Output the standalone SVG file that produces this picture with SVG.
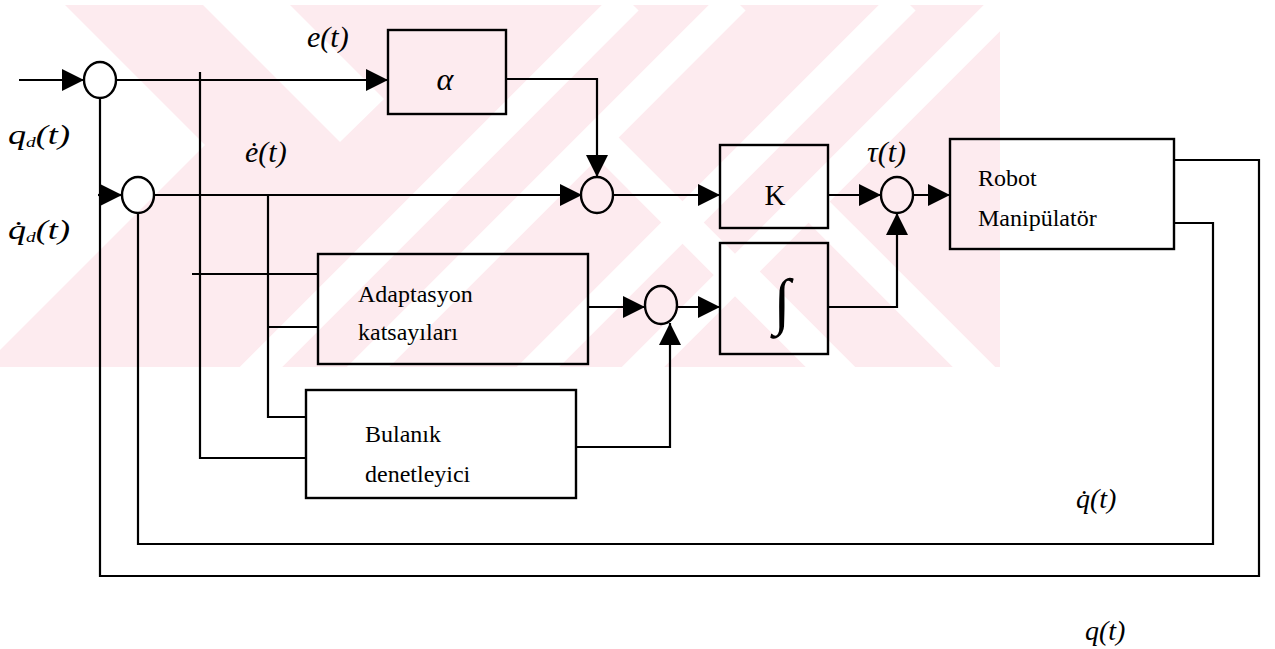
<svg xmlns="http://www.w3.org/2000/svg" width="1275" height="649" viewBox="0 0 1275 649">
<defs>
<marker id="ah" markerUnits="userSpaceOnUse" markerWidth="22" markerHeight="22" refX="22" refY="11" orient="auto" viewBox="0 0 22 22"><path d="M0,0L22,11L0,22z" fill="#000"/></marker>
<clipPath id="wm"><rect x="0" y="5" width="1000" height="362"/></clipPath>
</defs>
<style>
.ln{fill:none;stroke:#000;stroke-width:2.2}
.bx{fill:none;stroke:#000;stroke-width:2.4}
.ws{stroke:#fff;fill:none}
</style>
<rect width="1275" height="649" fill="#fff"/>
<g id="watermark" clip-path="url(#wm)">
<rect x="0" y="5" width="1000" height="362" fill="#fdebef"/>
<polygon points="0,5 65,5 205,145 0,350" fill="#fff"/>
<polygon points="203,5 290,5 384,99 340,142" fill="#fff"/>
<g class="ws" stroke-width="30">
<line x1="628" y1="0" x2="0" y2="628"/>
<line x1="735" y1="0" x2="0" y2="735"/>
<line x1="905" y1="0" x2="0" y2="905"/>
<line x1="1010" y1="0" x2="0" y2="1010"/>
<line x1="737" y1="270" x2="850" y2="383"/>
<line x1="807" y1="200" x2="990" y2="383"/>
<line x1="590" y1="130" x2="830" y2="370"/>
</g>
</g>
<g id="connectors">
<path class="ln" d="M19,80H84" marker-end="url(#ah)"/>
<path class="ln" d="M116,80H388" marker-end="url(#ah)"/>
<path class="ln" d="M200,72V458H306"/>
<path class="ln" d="M506,79H597V177" marker-end="url(#ah)"/>
<path class="ln" d="M100,98V576H1259V160H1174"/>
<path class="ln" d="M98,195H122" marker-end="url(#ah)"/>
<path class="ln" d="M138,213V544H1213V223H1174"/>
<path class="ln" d="M153,195H582" marker-end="url(#ah)"/>
<path class="ln" d="M268,195V417H306"/>
<path class="ln" d="M268,327H318"/>
<path class="ln" d="M192,274H318"/>
<path class="ln" d="M613,195H720" marker-end="url(#ah)"/>
<path class="ln" d="M828,195H881" marker-end="url(#ah)"/>
<path class="ln" d="M912,195H950" marker-end="url(#ah)"/>
<path class="ln" d="M588,307H645" marker-end="url(#ah)"/>
<path class="ln" d="M677,307H720" marker-end="url(#ah)"/>
<path class="ln" d="M828,307H897V213" marker-end="url(#ah)"/>
<path class="ln" d="M576,447H670V323" marker-end="url(#ah)"/>
</g>
<g font-family="'Times New Roman', 'Liberation Serif', 'DejaVu Serif', serif" fill="#000">
<g id="sum1"><ellipse class="bx" cx="100" cy="80" rx="16" ry="18"/></g>
<g id="sum2"><ellipse class="bx" cx="138" cy="195" rx="16" ry="18"/></g>
<g id="sum3"><ellipse class="bx" cx="597" cy="195" rx="16" ry="18"/></g>
<g id="sum4"><ellipse class="bx" cx="897" cy="195" rx="16" ry="18"/></g>
<g id="sum5"><ellipse class="bx" cx="661" cy="305" rx="16" ry="19"/></g>
<g id="alpha"><rect class="bx" x="388" y="30" width="118" height="84"/><text x="445" y="90" text-anchor="middle" font-size="32" font-style="italic">α</text></g>
<g id="K"><rect class="bx" x="720" y="145" width="108" height="83"/><text x="775" y="205" text-anchor="middle" font-size="29">K</text></g>
<g id="integral"><rect class="bx" x="720" y="243" width="108" height="111"/><text x="782" y="322" text-anchor="middle" font-size="62">∫</text></g>
<g id="robot" font-size="24"><rect class="bx" x="950" y="139" width="224" height="110"/><text x="978" y="186">Robot</text><text x="978" y="226">Manipülatör</text></g>
<g id="adaptasyon" font-size="24"><rect class="bx" x="318" y="254" width="270" height="110"/><text x="358" y="302">Adaptasyon</text><text x="358" y="340">katsayıları</text></g>
<g id="bulanik" font-size="24"><rect class="bx" x="306" y="390" width="270" height="108"/><text x="365" y="442">Bulanık</text><text x="365" y="482">denetleyici</text></g>
<g id="labels" font-style="italic" font-size="30">
<text x="307" y="47">e(t)</text>
<text x="245" y="162">ė(t)</text>
<text x="867" y="162">τ(t)</text>
<text x="8" y="144" font-size="28" textLength="62" lengthAdjust="spacingAndGlyphs">q<tspan font-size="15" dy="3">d</tspan><tspan dy="-3">(t)</tspan></text>
<text x="8" y="239" font-size="28" textLength="62" lengthAdjust="spacingAndGlyphs">q̇<tspan font-size="15" dy="3">d</tspan><tspan dy="-3">(t)</tspan></text>
<text x="1076" y="508" font-size="28">q̇(t)</text>
<text x="1085" y="640" font-size="28">q(t)</text>
</g>
</g>
</svg>
